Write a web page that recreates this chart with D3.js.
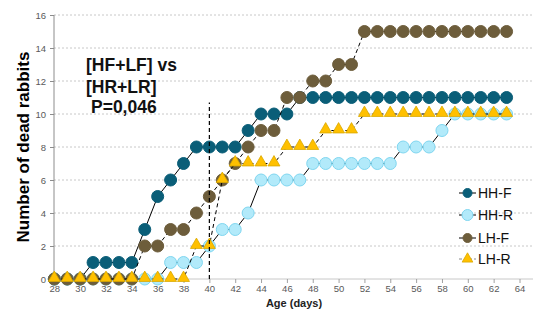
<!DOCTYPE html>
<html><head><meta charset="utf-8">
<script src="https://cdn.jsdelivr.net/npm/d3@7"></script>
<style>body{margin:0;background:#fff}svg{display:block;font-family:Arial,"Liberation Sans",sans-serif}</style>
</head><body><svg id="c" width="538" height="314"></svg>
<script>
const days = d3.range(28, 64);
const hhF = [0,0,0,1,1,1,1,3,5,6,7,8,8,8,8,9,10,10,10,11,11,11,11,11,11,11,11,11,11,11,11,11,11,11,11,11];
const hhR = [0,0,0,0,0,0,0,0,0,1,1,1,2,3,3,4,6,6,6,6,7,7,7,7,7,7,7,8,8,8,9,10,10,10,10,10];
const lhF = [0,0,0,0,0,0,0,2,2,3,3,4,5,6,7,8,9,9,11,11,12,12,13,13,15,15,15,15,15,15,15,15,15,15,15,15];
const lhR = [0,0,0,0,0,0,0,0,0,0,0,2,2,6,7,7,7,7,8,8,8,9,9,9,10,10,10,10,10,10,10,10,10,10,10,10];
const xTicks = d3.range(28, 65, 2);
const yTicks = d3.range(0, 17, 2);
const seriesNames = ["HH-F","HH-R","LH-F","LH-R"];
const cutoffDay = 40, cutoffTop = 10.7;

const svg = d3.select("#c");
const x = d3.scaleLinear().domain([28, 64]).range([54.3, 519.5]);
const y = d3.scaleLinear().domain([0, 16]).range([279, 15]);
const plotRight = 533;

// gridlines
svg.append("g").selectAll("line").data(yTicks.filter(d=>d>0)).join("line")
  .attr("x1", 54).attr("x2", plotRight).attr("y1", d=>y(d)).attr("y2", d=>y(d))
  .attr("stroke", "#c8c8c8").attr("stroke-width", 1).attr("stroke-dasharray", "2,2");

// axes
const yAxis = svg.append("g").attr("transform", "translate(54,0)")
  .call(d3.axisLeft(y).tickValues(yTicks).tickSize(4).tickPadding(4));
yAxis.select(".domain").attr("stroke", "#8c8c8c").attr("d", `M0,${y(0)}V${y(16)}`);
yAxis.selectAll(".tick line").attr("stroke", "#8c8c8c");
yAxis.selectAll("text").attr("font-size", 9.5).attr("fill", "#595959").attr("font-family","Arial, Liberation Sans, sans-serif");

const xAxis = svg.append("g").attr("transform", `translate(0,${y(0)})`)
  .call(d3.axisBottom(x).tickValues(xTicks).tickSize(4).tickPadding(2));
xAxis.select(".domain").attr("stroke", "#c8c8c8").attr("d", `M54,0H${plotRight}`);
xAxis.selectAll(".tick line").attr("stroke", "#a0a0a0");
xAxis.selectAll("text").attr("font-size", 9.5).attr("fill", "#595959").attr("font-family","Arial, Liberation Sans, sans-serif");

// axis titles
svg.append("text").attr("transform", "translate(29,147) rotate(-90)")
  .attr("text-anchor", "middle").attr("font-size", 17).attr("font-weight", "bold")
  .text("Number of dead rabbits");
svg.append("text").attr("x", 294).attr("y", 307).attr("text-anchor", "middle")
  .attr("font-size", 11).attr("font-weight", "bold").attr("fill", "#222").text("Age (days)");

// annotation
const ann = svg.append("g").attr("font-size", 17.5).attr("font-weight", "bold").attr("fill", "#111");
ann.append("text").attr("x", 86).attr("y", 71).text("[HF+LF] vs");
ann.append("text").attr("x", 86).attr("y", 93).text("[HR+LR]");
ann.append("text").attr("x", 91).attr("y", 113).text("P=0,046");

const series = [
  {name: seriesNames[0], vals: hhF, fill: "#0a5e78", stroke: "#0a5e78", dash: null, shape: "circle"},
  {name: seriesNames[1], vals: hhR, fill: "#b2eafa", stroke: "#7fd6f0", dash: null, shape: "circle"},
  {name: seriesNames[2], vals: lhF, fill: "#6d5d3b", stroke: "#6d5d3b", dash: "4,3", shape: "circle"},
  {name: seriesNames[3], vals: lhR, fill: "#ffc000", stroke: "#d9a800", dash: "4,3", shape: "triangle"}
];

const line = d3.line().x(d=>x(d[0])).y(d=>y(d[1]));
const tri = d3.symbol().type(d3.symbolTriangle).size(62);

series.forEach(s => {
  const pts = days.map((d,i)=>[d, s.vals[i]]);
  svg.append("path").datum(pts).attr("d", line).attr("fill", "none")
    .attr("stroke", "#000").attr("stroke-width", 1).attr("stroke-dasharray", s.dash);
  const g = svg.append("g");
  if (s.shape === "circle") {
    g.selectAll("circle").data(pts).join("circle")
      .attr("cx", d=>x(d[0])).attr("cy", d=>y(d[1])).attr("r", 6)
      .attr("fill", s.fill).attr("stroke", s.stroke).attr("stroke-width", 1);
  } else {
    g.selectAll("path").data(pts).join("path")
      .attr("d", tri).attr("transform", d=>`translate(${x(d[0])},${y(d[1])-1})`)
      .attr("fill", s.fill).attr("stroke", s.stroke).attr("stroke-width", 0.8);
  }
});

// vertical dashed cutoff
svg.append("line").attr("x1", x(cutoffDay)).attr("x2", x(cutoffDay))
  .attr("y1", y(0)).attr("y2", y(cutoffTop))
  .attr("stroke", "#000").attr("stroke-width", 1.2).attr("stroke-dasharray", "4,3");

// legend
const leg = svg.append("g");
const legY = [193, 215, 238, 259];
series.forEach((s, i) => {
  const gy = legY[i];
  leg.append("line").attr("x1", 459).attr("x2", 476).attr("y1", gy).attr("y2", gy)
    .attr("stroke", i===3 ? "#888" : "#000").attr("stroke-width", 1)
    .attr("stroke-dasharray", i===3 ? "3,2" : null);
  if (s.shape === "circle") {
    leg.append("circle").attr("cx", 467.5).attr("cy", gy).attr("r", i===1 ? 5.5 : 4.5)
      .attr("fill", s.fill).attr("stroke", s.stroke);
  } else {
    leg.append("path").attr("d", d3.symbol().type(d3.symbolTriangle).size(50))
      .attr("transform", `translate(467.5,${gy})`).attr("fill", s.fill).attr("stroke", s.stroke).attr("stroke-width", 0.8);
  }
  leg.append("text").attr("x", 478).attr("y", gy + 5).attr("font-size", 14).attr("fill", "#111").text(s.name);
});
</script></body></html>
